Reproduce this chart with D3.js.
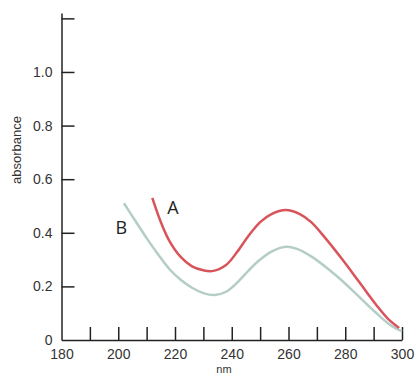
<!DOCTYPE html>
<html>
<head>
<meta charset="utf-8">
<script src="https://cdn.jsdelivr.net/npm/d3@7"></script>
<style>
  body { margin: 0; background: #fff; }
  svg { display: block; font-family: "Liberation Sans", Arial, sans-serif; }
</style>
</head>
<body>
<svg width="416" height="378"></svg>
<script>
// spectrum A (red) and B (grey)
const nmA = [212, 215, 218, 222, 226, 230, 233, 238, 242, 246, 250, 254, 259, 264, 268, 273, 279, 285, 291, 295, 299];
const absA = [0.53, 0.44, 0.37, 0.31, 0.275, 0.26, 0.257, 0.28, 0.33, 0.39, 0.44, 0.47, 0.485, 0.47, 0.44, 0.38, 0.30, 0.215, 0.13, 0.08, 0.045];
const nmB = [202, 206, 210, 214, 218, 222, 226, 230, 234, 238, 242, 246, 250, 254, 259, 263, 268, 274, 279, 285, 291, 296, 300];
const absB = [0.51, 0.445, 0.38, 0.32, 0.265, 0.225, 0.195, 0.175, 0.168, 0.18, 0.215, 0.26, 0.30, 0.33, 0.348, 0.34, 0.312, 0.265, 0.22, 0.16, 0.10, 0.055, 0.032];
const xTicks = [180, 190, 200, 210, 220, 230, 240, 250, 260, 270, 280, 290, 300];
const yTicks = [0, 0.2, 0.4, 0.6, 0.8, 1.0, 1.2];

const svg = d3.select('svg');
const x = d3.scaleLinear().domain([180, 300]).range([61.5, 402]);
const y = d3.scaleLinear().domain([0, 1.22]).range([340, 13]);

const xAxis = d3.axisBottom(x).tickValues(xTicks).tickSizeInner(-13).tickSizeOuter(0).tickPadding(9)
  .tickFormat(d => d % 20 === 0 ? d : '');
const yAxis = d3.axisLeft(y).tickValues(yTicks).tickSizeInner(-13).tickSizeOuter(0).tickPadding(9)
  .tickFormat(d => d === 0 ? '0' : (d > 1.1 ? '' : d3.format('.1f')(d)));

const gx = svg.append('g').attr('transform', 'translate(0,340)').call(xAxis);
const gy = svg.append('g').attr('transform', 'translate(61.5,0)').call(yAxis);
[gx, gy].forEach(g => {
  g.selectAll('path, line').attr('stroke', '#222').attr('stroke-width', 1.5);
  g.selectAll('text').attr('fill', '#333').style('font-size', '14px').style('font-family', '"Liberation Sans", Arial, sans-serif');
});
gx.select('.tick:first-of-type line').remove();
gy.select('.tick:first-of-type line').remove();

const line = d3.line().x(d => x(d[0])).y(d => y(d[1])).curve(d3.curveCatmullRom);

svg.append('path').datum(d3.zip(nmB, absB)).attr('d', line)
  .attr('fill', 'none').attr('stroke', '#b4cec6').attr('stroke-width', 2.5);
svg.append('path').datum(d3.zip(nmA, absA)).attr('d', line)
  .attr('fill', 'none').attr('stroke', '#d8545a').attr('stroke-width', 2.5);

svg.append('text').attr('x', x(219.3)).attr('y', y(0.47)).attr('text-anchor', 'middle')
  .attr('fill', '#222').style('font-size', '18px').style('font-family', '"Open Sans", sans-serif').text('A');
svg.append('text').attr('x', x(201.1)).attr('y', y(0.394)).attr('text-anchor', 'middle')
  .attr('fill', '#222').style('font-size', '18px').style('font-family', '"Open Sans", sans-serif').text('B');

svg.append('text').attr('transform', 'translate(21,150) rotate(-90)').attr('text-anchor', 'middle')
  .attr('fill', '#333').style('font-size', '13px').text('absorbance');
svg.append('text').attr('x', 224).attr('y', 373).attr('text-anchor', 'middle')
  .attr('fill', '#333').style('font-size', '11px').text('nm');
</script>
</body>
</html>
